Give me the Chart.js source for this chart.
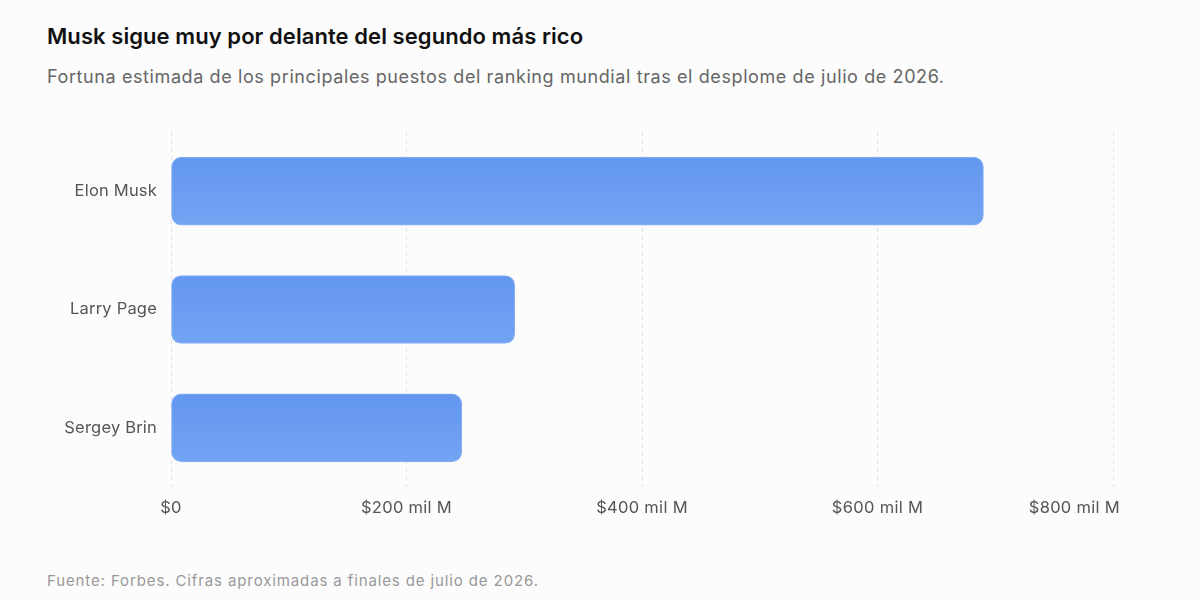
<!DOCTYPE html>
<html lang="es">
<head>
<meta charset="utf-8">
<title>Musk sigue muy por delante del segundo más rico</title>
<script src="https://cdn.jsdelivr.net/npm/chart.js@4.4.1/dist/chart.umd.min.js"></script>
<style>
  html, body { margin: 0; padding: 0; background: #fcfcfc; }
  body { width: 1200px; height: 601px; position: relative; overflow: hidden; font-family: Inter, "Noto Sans", sans-serif; }
  h1 { position: absolute; left: 47px; top: 23px; margin: 0; font-size: 22px; line-height: 26px; font-weight: 600; color: #111; letter-spacing: 0.07px; }
  .sub { position: absolute; left: 47px; top: 65px; margin: 0; font-size: 18px; line-height: 24px; color: #666; letter-spacing: 0.6px; }
  .foot { position: absolute; left: 47px; top: 571px; margin: 0; font-size: 15px; line-height: 20px; color: #999; letter-spacing: 0.88px; }
  .wrap { position: absolute; left: 0; top: 108px; width: 1200px; height: 432px; }
</style>
</head>
<body>
<h1>Musk sigue muy por delante del segundo más rico</h1>
<p class="sub">Fortuna estimada de los principales puestos del ranking mundial tras el desplome de julio de 2026.</p>
<div class="wrap"><canvas id="barChart"></canvas></div>
<p class="foot">Fuente: Forbes. Cifras aproximadas a finales de julio de 2026.</p>

<script>
const names = ['Elon Musk', 'Larry Page', 'Sergey Brin'];
const fortune = [690, 292, 247]; // miles de millones USD
const tickValues = [0, 200, 400, 600, 800];
const tickLabels = ['$0', '$200 mil M', '$400 mil M', '$600 mil M', '$800 mil M'];

const barThick = 68;
const labelFont = 'Inter, "Noto Sans", sans-serif';

// Gradient per bar, top darker -> bottom lighter
function barFill(ctx) {
  const chart = ctx.chart;
  const y = chart.scales && chart.scales.y;
  if (!chart.chartArea || !y || ctx.dataIndex === undefined) return '#6a9cf0';
  const mid = y.getPixelForValue(ctx.dataIndex);
  const g = chart.ctx.createLinearGradient(0, mid - barThick / 2, 0, mid + barThick / 2);
  g.addColorStop(0, '#6397ef');
  g.addColorStop(1, '#72a4f3');
  return g;
}

// a bit of tracking on canvas text
const tracking = {
  id: 'tracking',
  beforeDraw(chart) { chart.ctx.letterSpacing = '0.2px'; }
};

// x tick labels drawn at the scale's positions, last one kept inside the edge
const xLabels = {
  id: 'xLabels',
  afterDraw(chart) {
    const { ctx, scales: { x } } = chart;
    const maxRight = 1120;
    ctx.save();
    ctx.letterSpacing = '0.3px';
    ctx.font = '16.5px ' + labelFont;
    ctx.fillStyle = '#555';
    ctx.textBaseline = 'middle';
    ctx.textAlign = 'left';
    tickValues.forEach((v, i) => {
      const px = x.getPixelForValue(v);
      const w = ctx.measureText(tickLabels[i]).width;
      let left = px - w / 2;
      if (left + w > maxRight) left = maxRight - w;
      ctx.fillText(tickLabels[i], left, chart.chartArea.bottom + 21);
    });
    ctx.restore();
  }
};

const barChart = new Chart(document.getElementById('barChart').getContext('2d'), {
  type: 'bar',
  data: {
    labels: names,
    datasets: [{
      label: 'Fortuna',
      data: fortune,
      backgroundColor: barFill,
      borderColor: 'rgba(125,170,245,0.9)',
      borderWidth: 1,
      borderRadius: 10,
      borderSkipped: false,
      barThickness: barThick
    }]
  },
  options: {
    indexAxis: 'y',
    responsive: true,
    maintainAspectRatio: false,
    animation: false,
    layout: { padding: { top: 24, left: 47, right: 87, bottom: 0 } },
    plugins: { legend: { display: false }, tooltip: { enabled: false } },
    scales: {
      x: {
        min: 0,
        max: 800,
        afterBuildTicks: (s) => { s.ticks = tickValues.map(v => ({ value: v })); },
        afterFit: (s) => { s.height = 53; },
        ticks: { display: false },
        grid: { color: '#e2e2e2', lineWidth: 1, drawTicks: false },
        border: { display: false, dash: [4, 4] }
      },
      y: {
        afterFit: (s) => { s.width = 124; },
        ticks: {
          padding: 14,
          color: '#555',
          font: { family: labelFont, size: 16.5 }
        },
        grid: { display: false, drawTicks: false },
        border: { display: false }
      }
    }
  },
  plugins: [tracking, xLabels]
});
</script>
</body>
</html>
